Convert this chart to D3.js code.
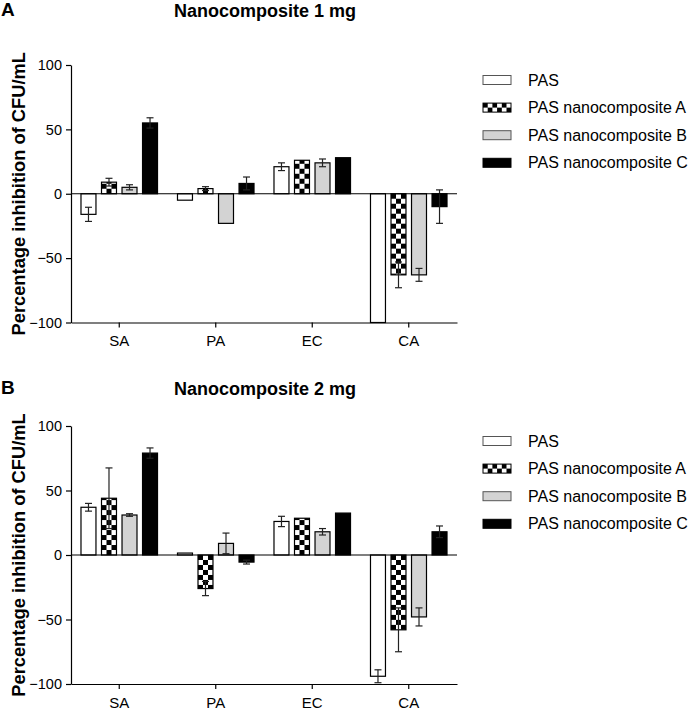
<!DOCTYPE html>
<html>
<head>
<meta charset="utf-8">
<script src="https://cdn.jsdelivr.net/npm/d3@7"></script>
<style>
  html, body { margin: 0; padding: 0; background: #fff; }
  svg { display: block; font-family: "Liberation Sans", Arial, Helvetica, sans-serif; }
</style>
</head>
<body>
<svg id="chart" width="694" height="712"></svg>
<script>
// ---- Data ----
const categories = ["SA", "PA", "EC", "CA"];
const seriesNames = ["PAS", "PAS nanocomposite A", "PAS nanocomposite B", "PAS nanocomposite C"];
const yTicks = [100, 50, 0, -50, -100];

// Panel A: Nanocomposite 1 mg (rows = series, columns = categories)
const valuesA_PAS = [-16, -5, 21, -100];
const valuesA_A   = [9, 4, 26, -63];
const valuesA_B   = [5, -23, 24, -63];
const valuesA_C   = [55, 8, 28, -10];
const errA_PAS = [5.5, 0, 3, 0];
const errA_A   = [3, 1.5, 0, 10];
const errA_B   = [2, 0, 3, 5];
const errA_C   = [4, 5, 0, 13];

// Panel B: Nanocomposite 2 mg
const valuesB_PAS = [37, 1.5, 26, -94];
const valuesB_A   = [44, -26, 28.5, -58];
const valuesB_B   = [31, 9, 18, -48];
const valuesB_C   = [79, -5.5, 32.5, 18];
const errB_PAS = [3, 0, 4, 5];
const errB_A   = [23.5, 5.5, 0, 17];
const errB_B   = [1, 8, 2.5, 7];
const errB_C   = [4, 1.5, 0, 4.5];

const panels = [
  { letter: "A", title: "Nanocomposite 1 mg",
    values: [valuesA_PAS, valuesA_A, valuesA_B, valuesA_C],
    errors: [errA_PAS, errA_A, errA_B, errA_C],
    yTop: 65, yBottom: 322.5, letterY: 16, titleY: 17 },
  { letter: "B", title: "Nanocomposite 2 mg",
    values: [valuesB_PAS, valuesB_A, valuesB_B, valuesB_C],
    errors: [errB_PAS, errB_A, errB_B, errB_C],
    yTop: 426, yBottom: 684, letterY: 394, titleY: 395 }
];

// ---- Drawing ----
const svg = d3.select("#chart");
const defs = svg.append("defs");
const xLeft = 71, xRight = 457;

const x0 = d3.scaleBand().domain(categories).range([xLeft, xRight])
  .paddingInner(0.207).paddingOuter(0.1035);
const x1 = d3.scaleBand().domain(seriesNames).range([0, x0.bandwidth()])
  .paddingInner(0.27).paddingOuter(0);

const fills = ["#ffffff", "checker", "#d3d3d3", "#000000"];
let patId = 0;
function checkerPattern(x, y, cell) {
  const id = "chk" + (patId++);
  const p = defs.append("pattern").attr("id", id)
    .attr("patternUnits", "userSpaceOnUse")
    .attr("x", x).attr("y", y)
    .attr("width", cell * 2).attr("height", cell * 2);
  p.append("rect").attr("width", cell * 2).attr("height", cell * 2).attr("fill", "#fff");
  p.append("rect").attr("x", 0).attr("y", 0).attr("width", cell).attr("height", cell).attr("fill", "#000");
  p.append("rect").attr("x", cell).attr("y", cell).attr("width", cell).attr("height", cell).attr("fill", "#000");
  return "url(#" + id + ")";
}

panels.forEach(panel => {
  const y = d3.scaleLinear().domain([-100, 100]).range([panel.yBottom, panel.yTop]);
  const g = svg.append("g");

  // Letter and title
  g.append("text").attr("x", 1).attr("y", panel.letterY)
    .attr("font-size", 19).attr("font-weight", "bold").text(panel.letter);
  g.append("text").attr("x", 265).attr("y", panel.titleY)
    .attr("text-anchor", "middle").attr("font-size", 18).attr("font-weight", "bold")
    .text(panel.title);

  // Y label
  g.append("text")
    .attr("transform", `translate(25,${(panel.yTop + panel.yBottom) / 2}) rotate(-90)`)
    .attr("text-anchor", "middle").attr("font-size", 18.3).attr("font-weight", "bold")
    .text("Percentage inhibition of CFU/mL");

  // Bars
  const cw = x1.bandwidth() / 3;
  seriesNames.forEach((s, si) => {
    categories.forEach((c, ci) => {
      const v = panel.values[si][ci];
      const bx = x0(c) + x1(s);
      const by = Math.min(y(v), y(0));
      const bh = Math.abs(y(v) - y(0));
      let fill = fills[si];
      if (fill === "checker") fill = checkerPattern(bx, y(0), cw);
      g.append("rect").attr("x", bx).attr("y", by)
        .attr("width", x1.bandwidth()).attr("height", bh)
        .attr("fill", fill).attr("stroke", "#000").attr("stroke-width", 1.2);
    });
  });

  // Error bars
  seriesNames.forEach((s, si) => {
    categories.forEach((c, ci) => {
      const v = panel.values[si][ci], e = panel.errors[si][ci];
      if (!e) return;
      const cx = x0(c) + x1(s) + x1.bandwidth() / 2;
      const lo = Math.max(-100, v - e), hi = v + e;
      const eg = g.append("g").attr("stroke", "#222").attr("stroke-width", 1.2);
      eg.append("line").attr("x1", cx).attr("x2", cx).attr("y1", y(lo)).attr("y2", y(hi));
      eg.append("line").attr("x1", cx - 3.5).attr("x2", cx + 3.5).attr("y1", y(hi)).attr("y2", y(hi));
      if (v - e > -100)
        eg.append("line").attr("x1", cx - 3.5).attr("x2", cx + 3.5).attr("y1", y(lo)).attr("y2", y(lo));
    });
  });

  // Zero line
  g.append("line").attr("x1", xLeft).attr("x2", xRight)
    .attr("y1", y(0)).attr("y2", y(0)).attr("stroke", "#000").attr("stroke-width", 1.2);

  // Y axis
  const ya = g.append("g").attr("transform", `translate(${xLeft},0)`)
    .call(d3.axisLeft(y).tickValues(yTicks).tickSize(5).tickSizeOuter(0).tickPadding(4));
  ya.selectAll("text").attr("font-size", 14.5).attr("font-family", null).attr("fill", "#000");
  ya.selectAll("line, path").attr("stroke", "#000").attr("stroke-width", 1.2);

  // X axis
  const xa = g.append("g").attr("transform", `translate(0,${panel.yBottom})`)
    .call(d3.axisBottom(x0).tickSize(5).tickSizeOuter(0).tickPadding(8));
  xa.selectAll("text").attr("font-size", 15).attr("font-family", null).attr("fill", "#000");
  xa.selectAll("line, path").attr("stroke", "#000").attr("stroke-width", 1.2);

  // Legend
  const lg = g.append("g");
  const legendTop = panel.yTop + 15;
  seriesNames.forEach((s, si) => {
    const cy = legendTop + si * 27.6;
    let fill = fills[si];
    if (fill === "checker") fill = checkerPattern(483, cy - 4.7, 4.7);
    lg.append("rect").attr("x", 483).attr("y", cy - 4.5).attr("width", 28).attr("height", 9)
      .attr("fill", fill).attr("stroke", si === 0 || si === 2 ? "#555" : "#000").attr("stroke-width", 1);
    lg.append("text").attr("x", 528).attr("y", cy + 5.5)
      .attr("font-size", 16).text(s);
  });
});
</script>
</body>
</html>
